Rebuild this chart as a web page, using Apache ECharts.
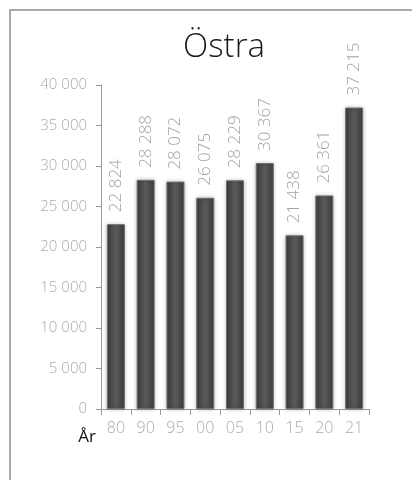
<!DOCTYPE html>
<html>
<head>
<meta charset="utf-8">
<script src="https://cdn.jsdelivr.net/npm/echarts@6/dist/echarts.min.js"></script>
<style>
  html, body { margin: 0; padding: 0; background: #fff; }
  #chart { width: 412px; height: 480px; }
</style>
</head>
<body>
<div id="chart"></div>
<script>
var years = ["80", "90", "95", "00", "05", "10", "15", "20", "21"];
var values = [22824, 28288, 28072, 26075, 28229, 30367, 21438, 26361, 37215];
var yTicks = [0, 5000, 10000, 15000, 20000, 25000, 30000, 35000, 40000];

// tusental med mellanslag, t.ex. 22 824
function fmt(v) {
  return String(v).replace(/\B(?=(\d{3})+(?!\d))/g, " ");
}

var myChart = echarts.init(document.getElementById("chart"));
var font = "'Open Sans', Lato, sans-serif";

var option = {
  animation: false,
  title: {
    text: "Östra",
    left: 219,
    textAlign: "center",
    top: 26,
    textStyle: { color: "#1a1a1a", fontSize: 33, fontWeight: 300, fontFamily: font }
  },
  graphic: [
    {
      type: "rect",
      shape: { x: 10, y: 10, width: 600, height: 600 },
      style: { fill: "none", stroke: "#aaaaaa", lineWidth: 2 },
      silent: true
    }
  ],
  grid: { left: 101, right: 43, top: 85, bottom: 71 },
  xAxis: {
    type: "category",
    data: years,
    name: "År",
    nameLocation: "start",
    nameGap: 5,
    nameTextStyle: {
      color: "#111", fontSize: 17, fontFamily: font,
      verticalAlign: "top", padding: [20, 0, 0, 0]
    },
    axisLine: { lineStyle: { color: "#999", width: 1 } },
    axisTick: { show: true, length: 6, lineStyle: { color: "#999" } },
    axisLabel: { color: "#aaa", fontSize: 16, fontWeight: 300, fontFamily: font, margin: 11 }
  },
  yAxis: {
    type: "value",
    min: yTicks[0],
    max: yTicks[yTicks.length - 1],
    interval: 5000,
    axisLine: { show: true, lineStyle: { color: "#999", width: 1 } },
    axisTick: { show: true, length: 5, lineStyle: { color: "#999" } },
    splitLine: { show: false },
    axisLabel: {
      color: "#aaa", fontSize: 15, fontWeight: 300, fontFamily: font, margin: 14,
      formatter: function (v) { return fmt(v); }
    }
  },
  series: [
    {
      type: "bar",
      data: values,
      barWidth: 18,
      itemStyle: {
        color: {
          type: "linear", x: 0, y: 0, x2: 1, y2: 0,
          colorStops: [
            { offset: 0, color: "#3c3c3c" },
            { offset: 0.5, color: "#5a5a5a" },
            { offset: 1, color: "#3c3c3c" }
          ]
        },
        borderColor: "#6e6e6e",
        borderWidth: 1,
        shadowColor: "rgba(0,0,0,0.25)",
        shadowBlur: 4
      },
      label: {
        show: true,
        position: "top",
        rotate: 90,
        align: "left",
        verticalAlign: "middle",
        distance: 12,
        color: "#a3a3a3",
        fontSize: 17,
        fontWeight: 300,
        fontFamily: font,
        formatter: function (p) { return fmt(p.value); }
      }
    }
  ]
};

myChart.setOption(option);
</script>
</body>
</html>
